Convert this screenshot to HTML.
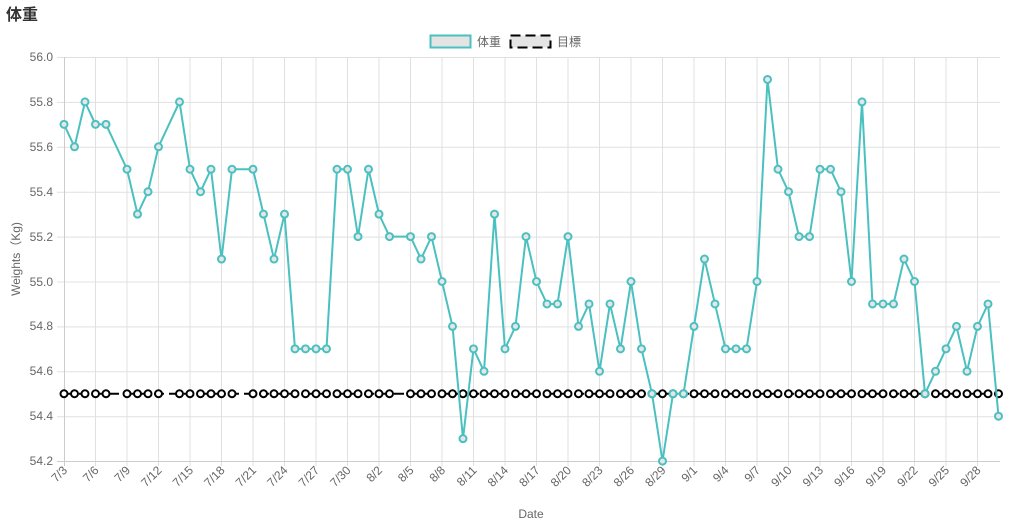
<!DOCTYPE html>
<html><head><meta charset="utf-8"><style>
html,body{margin:0;padding:0;background:#fff;width:1010px;height:530px;overflow:hidden}
svg{display:block}
text{font-family:"Liberation Sans","Noto Sans CJK JP",sans-serif;fill:#666;font-size:12px}
</style></head><body>
<svg width="1010" height="530" viewBox="0 0 1010 530" xmlns="http://www.w3.org/2000/svg">
<defs>
<marker id="mt" markerUnits="userSpaceOnUse" markerWidth="12" markerHeight="12" refX="6" refY="6"><circle cx="6" cy="6" r="3.5" fill="#e6e6e6" stroke="#4bc0c0" stroke-width="2"/></marker>
<marker id="mb" markerUnits="userSpaceOnUse" markerWidth="12" markerHeight="12" refX="6" refY="6"><circle cx="6" cy="6" r="3.5" fill="#fff" stroke="#000" stroke-width="2"/></marker>
</defs>
<text x="6" y="20" style="font-size:16px;font-weight:bold;fill:#333">体重</text>
<!-- legend -->
<rect x="430.5" y="35.5" width="40" height="12" fill="#e4e4e4" stroke="#4bc0c0" stroke-width="2"/>
<text x="477" y="46">体重</text>
<rect x="510.5" y="35.5" width="40" height="12" fill="#e4e4e4" stroke="#000" stroke-width="2" stroke-dasharray="10 5"/>
<text x="557" y="46">目標</text>
<!-- grid -->
<g stroke="#e0e0e0" stroke-width="1">
<path d="M57 57.5H1000M57 102.4H1000M57 147.3H1000M57 192.2H1000M57 237.1H1000M57 282H1000M57 326.9H1000M57 371.8H1000M57 416.7H1000"/>
<path d="M95.5 57V466M127 57V466M158.5 57V466M190 57V466M221.5 57V466M253 57V466M284.5 57V466M316 57V466M347.5 57V466M379 57V466M410.5 57V466M442 57V466M473.5 57V466M505 57V466M536.5 57V466M568 57V466M599.5 57V466M631 57V466M662.5 57V466M694 57V466M725.5 57V466M757 57V466M788.5 57V466M820 57V466M851.5 57V466M883 57V466M914.5 57V466M946 57V466M977.5 57V466"/>
</g>
<path d="M64.5 57V466M57 461.5H1000" stroke="#ccc" stroke-width="1"/>
<!-- y labels -->
<g text-anchor="end">
<text x="53" y="61">56.0</text><text x="53" y="106">55.8</text><text x="53" y="151">55.6</text><text x="53" y="196">55.4</text><text x="53" y="241">55.2</text><text x="53" y="286">55.0</text><text x="53" y="330">54.8</text><text x="53" y="375">54.6</text><text x="53" y="420">54.4</text><text x="53" y="465">54.2</text>
</g>
<text transform="translate(20,259) rotate(-90)" text-anchor="middle">Weights（Kg)</text>
<text x="531" y="518" text-anchor="middle">Date</text>
<!-- x labels -->
<g text-anchor="end">
<text transform="translate(68,471) rotate(-45)">7/3</text>
<text transform="translate(99.5,471) rotate(-45)">7/6</text>
<text transform="translate(131,471) rotate(-45)">7/9</text>
<text transform="translate(162.5,471) rotate(-45)">7/12</text>
<text transform="translate(194,471) rotate(-45)">7/15</text>
<text transform="translate(225.5,471) rotate(-45)">7/18</text>
<text transform="translate(257,471) rotate(-45)">7/21</text>
<text transform="translate(288.5,471) rotate(-45)">7/24</text>
<text transform="translate(320,471) rotate(-45)">7/27</text>
<text transform="translate(351.5,471) rotate(-45)">7/30</text>
<text transform="translate(383,471) rotate(-45)">8/2</text>
<text transform="translate(414.5,471) rotate(-45)">8/5</text>
<text transform="translate(446,471) rotate(-45)">8/8</text>
<text transform="translate(477.5,471) rotate(-45)">8/11</text>
<text transform="translate(509,471) rotate(-45)">8/14</text>
<text transform="translate(540.5,471) rotate(-45)">8/17</text>
<text transform="translate(572,471) rotate(-45)">8/20</text>
<text transform="translate(603.5,471) rotate(-45)">8/23</text>
<text transform="translate(635,471) rotate(-45)">8/26</text>
<text transform="translate(666.5,471) rotate(-45)">8/29</text>
<text transform="translate(698,471) rotate(-45)">9/1</text>
<text transform="translate(729.5,471) rotate(-45)">9/4</text>
<text transform="translate(761,471) rotate(-45)">9/7</text>
<text transform="translate(792.5,471) rotate(-45)">9/10</text>
<text transform="translate(824,471) rotate(-45)">9/13</text>
<text transform="translate(855.5,471) rotate(-45)">9/16</text>
<text transform="translate(887,471) rotate(-45)">9/19</text>
<text transform="translate(918.5,471) rotate(-45)">9/22</text>
<text transform="translate(950,471) rotate(-45)">9/25</text>
<text transform="translate(981.5,471) rotate(-45)">9/28</text>
</g>
<!-- target -->
<polyline fill="none" stroke="#000" stroke-width="2" stroke-dasharray="10 5" marker-start="url(#mb)" marker-mid="url(#mb)" marker-end="url(#mb)" points="64,393.75 74.5,393.75 85,393.75 95.5,393.75 106,393.75 127,393.75 137.5,393.75 148,393.75 158.5,393.75 179.5,393.75 190,393.75 200.5,393.75 211,393.75 221.5,393.75 232,393.75 253,393.75 263.5,393.75 274,393.75 284.5,393.75 295,393.75 305.5,393.75 316,393.75 326.5,393.75 337,393.75 347.5,393.75 358,393.75 368.5,393.75 379,393.75 389.5,393.75 410.5,393.75 421,393.75 431.5,393.75 442,393.75 452.5,393.75 463,393.75 473.5,393.75 484,393.75 494.5,393.75 505,393.75 515.5,393.75 526,393.75 536.5,393.75 547,393.75 557.5,393.75 568,393.75 578.5,393.75 589,393.75 599.5,393.75 610,393.75 620.5,393.75 631,393.75 641.5,393.75 652,393.75 662.5,393.75 673,393.75 683.5,393.75 694,393.75 704.5,393.75 715,393.75 725.5,393.75 736,393.75 746.5,393.75 757,393.75 767.5,393.75 778,393.75 788.5,393.75 799,393.75 809.5,393.75 820,393.75 830.5,393.75 841,393.75 851.5,393.75 862,393.75 872.5,393.75 883,393.75 893.5,393.75 904,393.75 914.5,393.75 925,393.75 935.5,393.75 946,393.75 956.5,393.75 967,393.75 977.5,393.75 988,393.75 998.5,393.75"/>
<!-- weight -->
<polyline fill="none" stroke="#4bc0c0" stroke-width="2" stroke-linejoin="miter" marker-start="url(#mt)" marker-mid="url(#mt)" marker-end="url(#mt)" points="64,124.35 74.5,146.8 85,101.9 95.5,124.35 106,124.35 127,169.25 137.5,214.15 148,191.7 158.5,146.8 179.5,101.9 190,169.25 200.5,191.7 211,169.25 221.5,259.05 232,169.25 253,169.25 263.5,214.15 274,259.05 284.5,214.15 295,348.85 305.5,348.85 316,348.85 326.5,348.85 337,169.25 347.5,169.25 358,236.6 368.5,169.25 379,214.15 389.5,236.6 410.5,236.6 421,259.05 431.5,236.6 442,281.5 452.5,326.4 463,438.65 473.5,348.85 484,371.3 494.5,214.15 505,348.85 515.5,326.4 526,236.6 536.5,281.5 547,303.95 557.5,303.95 568,236.6 578.5,326.4 589,303.95 599.5,371.3 610,303.95 620.5,348.85 631,281.5 641.5,348.85 652,393.75 662.5,461.1 673,393.75 683.5,393.75 694,326.4 704.5,259.05 715,303.95 725.5,348.85 736,348.85 746.5,348.85 757,281.5 767.5,79.45 778,169.25 788.5,191.7 799,236.6 809.5,236.6 820,169.25 830.5,169.25 841,191.7 851.5,281.5 862,101.9 872.5,303.95 883,303.95 893.5,303.95 904,259.05 914.5,281.5 925,393.75 935.5,371.3 946,348.85 956.5,326.4 967,371.3 977.5,326.4 988,303.95 998.5,416.2"/>
</svg>
</body></html>
